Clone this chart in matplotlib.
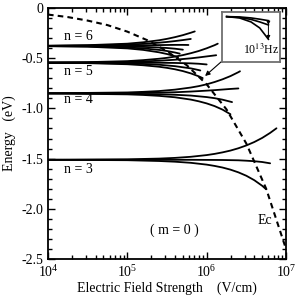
import numpy as np
import matplotlib
matplotlib.use("Agg")
import matplotlib.pyplot as plt
from matplotlib.ticker import MultipleLocator, FuncFormatter, LogLocator

plt.rcParams['font.family'] = ['Liberation Serif', 'DejaVu Serif']
plt.rcParams['mathtext.fontset'] = 'stix'
plt.rcParams['axes.unicode_minus'] = False

# classical ionization threshold Ec, (log10 of field in V/cm, energy in eV)
ec_logF = [4.0, 4.25, 4.5, 4.75, 5.0, 5.25, 5.5, 5.75, 6.0, 6.25, 6.5, 6.75, 7.0]
ec_energy = [-0.065, -0.09, -0.125, -0.17, -0.235, -0.32, -0.43, -0.57, -0.76, -1.01, -1.35, -1.80, -2.40]

# Stark fans, m = 0, each curve is a list of (log10 F, E)
n3_curves = [
    [(4.0, -1.512), (5.0, -1.507), (5.4, -1.500), (5.6, -1.493), (5.8, -1.482), (6.0, -1.465),
     (6.1, -1.453), (6.2, -1.438), (6.3, -1.420), (6.4, -1.397), (6.5, -1.369), (6.6, -1.335),
     (6.7, -1.294), (6.8, -1.244), (6.88, -1.198)],
    [(4.0, -1.512), (5.8, -1.512), (6.0, -1.513), (6.2, -1.514), (6.4, -1.517), (6.5, -1.521),
     (6.6, -1.526), (6.7, -1.534), (6.8, -1.547)],
    [(4.0, -1.512), (5.0, -1.516), (5.4, -1.524), (5.6, -1.531), (5.8, -1.542), (6.0, -1.560),
     (6.1, -1.573), (6.2, -1.589), (6.3, -1.610), (6.4, -1.637), (6.5, -1.671), (6.6, -1.715),
     (6.7, -1.771), (6.75, -1.806)],
]
n4_curves = [
    [(4.0, -0.850), (5.0, -0.841), (5.2, -0.835), (5.4, -0.827), (5.6, -0.813), (5.8, -0.792),
     (5.9, -0.778), (6.0, -0.760), (6.1, -0.737), (6.2, -0.710), (6.3, -0.678), (6.4, -0.639),
     (6.42, -0.630)],
    [(4.0, -0.850), (5.0, -0.847), (5.4, -0.843), (5.6, -0.839), (5.8, -0.832), (6.0, -0.823),
     (6.1, -0.818), (6.2, -0.812), (6.3, -0.806), (6.4, -0.801)],
    [(4.0, -0.850), (5.0, -0.854), (5.4, -0.859), (5.6, -0.864), (5.8, -0.872), (6.0, -0.887),
     (6.1, -0.898), (6.2, -0.913), (6.3, -0.933), (6.32, -0.937)],
    [(4.0, -0.850), (5.0, -0.860), (5.2, -0.866), (5.4, -0.875), (5.6, -0.889), (5.8, -0.912),
     (5.9, -0.929), (6.0, -0.950), (6.1, -0.977), (6.2, -1.012), (6.3, -1.058)],
]
n5_curves = [
    [(4.0, -0.543), (4.5, -0.539), (5.0, -0.529), (5.2, -0.519), (5.4, -0.505), (5.5, -0.496),
     (5.6, -0.484), (5.7, -0.469), (5.8, -0.450), (5.9, -0.428), (6.0, -0.401), (6.1, -0.370),
     (6.14, -0.355)],
    [(4.0, -0.543), (4.5, -0.542), (5.0, -0.536), (5.2, -0.532), (5.4, -0.525), (5.6, -0.515),
     (5.8, -0.501), (5.9, -0.492), (6.0, -0.482), (6.1, -0.472), (6.12, -0.470)],
    [(4.0, -0.544), (5.4, -0.545), (5.6, -0.547), (5.8, -0.551), (5.9, -0.555), (6.0, -0.562)],
    [(4.0, -0.545), (4.5, -0.547), (5.0, -0.552), (5.2, -0.557), (5.4, -0.565), (5.6, -0.579),
     (5.8, -0.601), (5.9, -0.618), (5.92, -0.622)],
    [(4.0, -0.546), (4.5, -0.549), (5.0, -0.560), (5.2, -0.570), (5.4, -0.585), (5.5, -0.596),
     (5.6, -0.610), (5.7, -0.628), (5.8, -0.651), (5.9, -0.680), (5.95, -0.698)],
]
n6_curves = [
    [(4.0, -0.376), (4.5, -0.370), (5.0, -0.355), (5.2, -0.341), (5.4, -0.321), (5.5, -0.307),
     (5.6, -0.290), (5.7, -0.270), (5.8, -0.246), (5.85, -0.233)],
    [(4.0, -0.376), (4.5, -0.373), (5.0, -0.364), (5.2, -0.357), (5.4, -0.345), (5.5, -0.338),
     (5.6, -0.329), (5.7, -0.319), (5.8, -0.308)],
    [(4.0, -0.377), (4.5, -0.376), (5.0, -0.374), (5.2, -0.372), (5.4, -0.369), (5.5, -0.368),
     (5.6, -0.367), (5.7, -0.367), (5.77, -0.368)],
    [(4.0, -0.378), (4.5, -0.379), (5.0, -0.383), (5.2, -0.387), (5.4, -0.393), (5.5, -0.398),
     (5.6, -0.405), (5.7, -0.415)],
    [(4.0, -0.379), (4.5, -0.382), (5.0, -0.393), (5.2, -0.402), (5.4, -0.417), (5.5, -0.428),
     (5.6, -0.443), (5.66, -0.454)],
    [(4.0, -0.380), (4.5, -0.385), (5.0, -0.402), (5.2, -0.417), (5.4, -0.441), (5.5, -0.458),
     (5.6, -0.480), (5.64, -0.491)],
]

level_labels = ["n = 6", "n = 5", "n = 4", "n = 3"]
label_energy = [-0.286, -0.634, -0.916, -1.604]

# inset sketch: three curves fanning out, in inset coordinates
inset_x = [0.08, 0.3, 0.5, 0.65, 0.8]
inset_top = [0.906, 0.90, 0.88, 0.855, 0.826]
inset_mid = [0.906, 0.89, 0.85, 0.80, 0.74]
inset_low = [0.906, 0.88, 0.80, 0.68, 0.454]

fig = plt.figure(figsize=(2.99, 2.98), dpi=100)
ax = fig.add_axes([0.1605, 0.131, 0.796, 0.842])

for curves in [n3_curves, n4_curves, n5_curves, n6_curves]:
    for c in curves:
        c = np.array(c)
        ax.plot(10 ** c[:, 0], c[:, 1], color='black', lw=1.3, solid_capstyle='round')

ax.plot(10 ** np.array(ec_logF), ec_energy, color='black', lw=1.5, dashes=(2.7, 2.0))

for lab, e in zip(level_labels, label_energy):
    ax.text(1.6e4, e, lab, fontsize=10, ha='left', va='center')

ax.text(3.9e5, -2.21, "( m = 0 )", fontsize=10, ha='center', va='center')
ax.text(5.45e6, -2.12, "Ec", fontsize=10, ha='center', va='center')

ax.annotate("", xy=(10 ** 5.98, -0.677), xytext=(10 ** 6.194, -0.528),
            arrowprops=dict(arrowstyle='-|>', color='black', lw=0.8,
                            mutation_scale=7, shrinkA=0, shrinkB=0))

ax.set_xscale('log')
ax.set_xlim(1e4, 1e7)
ax.set_ylim(-2.5, 0)
ax.yaxis.set_major_locator(MultipleLocator(0.5))
ax.yaxis.set_minor_locator(MultipleLocator(0.1))
ax.yaxis.set_major_formatter(FuncFormatter(lambda v, p: "0" if abs(v) < 1e-9 else "%.1f" % v))
ax.xaxis.set_major_locator(LogLocator(base=10, numticks=10))
ax.xaxis.set_minor_locator(LogLocator(base=10, subs=np.arange(2, 10), numticks=10))

ax.tick_params(which='both', direction='in', top=True, right=True, labelsize=10, width=1.0)
ax.tick_params(which='major', length=5)
ax.tick_params(which='minor', length=3)
for s in ax.spines.values():
    s.set_linewidth(1.3)

ax.set_xlabel("Electric Field Strength    (V/cm)", fontsize=10, labelpad=1)
ax.set_ylabel("Energy   (eV)", fontsize=10, labelpad=4)

# inset
ins = fig.add_axes([0.7425, 0.792, 0.194, 0.168])
ins.set_xlim(0, 1)
ins.set_ylim(0, 1)
ins.set_xticks([])
ins.set_yticks([])
for s in ins.spines.values():
    s.set_color('#707070')
    s.set_linewidth(1.3)
for yy in [inset_top, inset_mid, inset_low]:
    ins.plot(inset_x, yy, color='black', lw=1.2)
ins.annotate("", xy=(0.8, inset_mid[-1]), xytext=(0.8, inset_top[-1]),
             arrowprops=dict(arrowstyle='-|>', color='black', lw=0.7, mutation_scale=5,
                             shrinkA=0, shrinkB=0))
ins.annotate("", xy=(0.8, inset_low[-1]), xytext=(0.8, inset_mid[-1]),
             arrowprops=dict(arrowstyle='-|>', color='black', lw=0.7, mutation_scale=5,
                             shrinkA=0, shrinkB=0))
ins.text(0.98, 0.1, "10$^{13}$Hz", fontsize=8.5, ha='right', va='bottom')

fig.savefig("out.png", dpi=100)
